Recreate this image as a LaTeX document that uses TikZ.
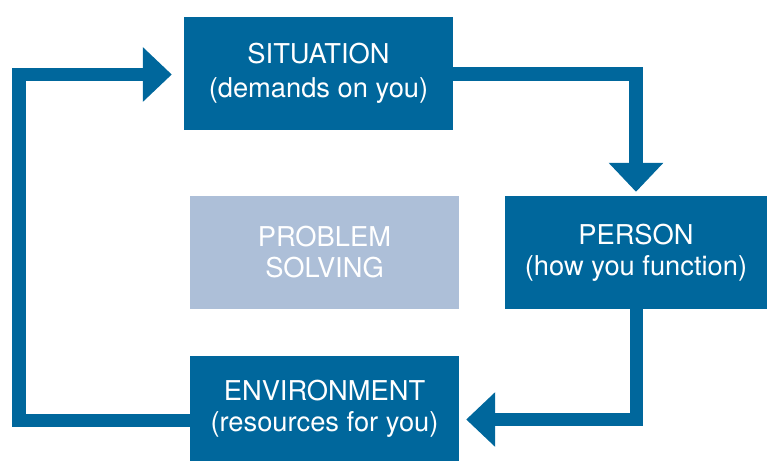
\documentclass[tikz,border=0pt]{standalone}
\usepackage{fontspec}
\setmainfont{TeX Gyre Heros}
\usetikzlibrary{arrows.meta,calc}
\definecolor{darkblue}{RGB}{0,103,156}
\definecolor{lightblue}{RGB}{173,191,216}
\begin{document}
\begin{tikzpicture}[x=1pt,y=-1pt,
  box/.style={fill=darkblue,text=white,inner sep=0pt,align=center,
    font=\fontsize{27.3}{31}\selectfont},
  lightbox/.style={box,fill=lightblue},
  conn/.style={draw=darkblue,line width=13.5pt,line join=miter,
    -{Triangle[width=53pt,length=29pt]}}]
\useasboundingbox (0,0) rectangle (767,462);
\node[box,font=\fontsize{27.3}{34}\selectfont,minimum width=269pt,minimum height=113pt] (sit) at (318.5,73.5) {SITUATION\\(demands on you)};
\node[box,minimum width=262pt,minimum height=113pt] (per) at (636,252.5) {PERSON\\(how you function)};
\node[box,minimum width=269pt,minimum height=105pt] (env) at (324.5,408.5) {ENVIRONMENT\\(resources for you)};
\node[lightbox,minimum width=269pt,minimum height=113pt] (prob) at (324.5,252.5) {PROBLEM\\SOLVING};
\draw[conn] ([yshift=-0.5pt]sit.east) -| ([yshift=4pt]per.north);
\draw[conn] ([xshift=0.5pt]per.south) |- ([xshift=7pt,yshift=-11pt]env.east);
\draw[conn] ([yshift=-12pt]env.west) -- ++(-171,0) |- ([xshift=-12pt,yshift=-1pt]sit.west);
\end{tikzpicture}
\end{document}
